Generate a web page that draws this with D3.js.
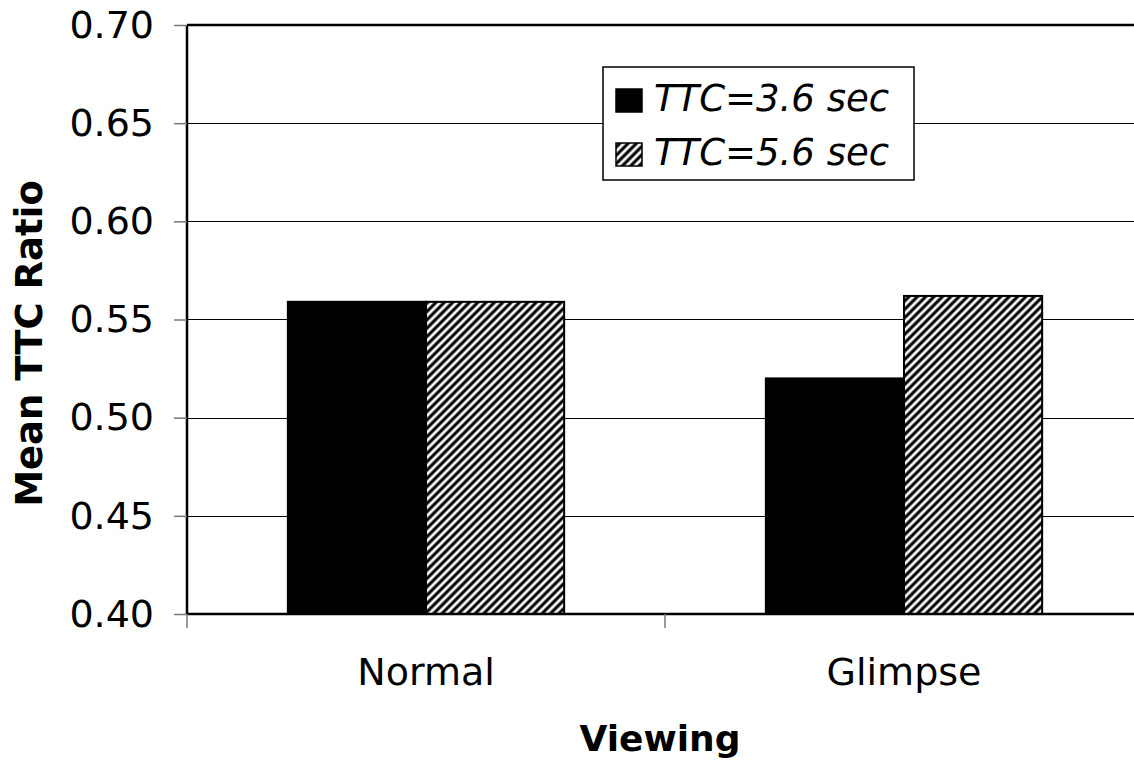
<!DOCTYPE html>
<html>
<head>
<meta charset="utf-8">
<script src="https://cdn.jsdelivr.net/npm/d3@7"></script>
<style>
  body { margin: 0; background: #fff; }
  svg { display: block; font-family: 'DejaVu Sans', Verdana, sans-serif; }
</style>
</head>
<body>
<svg id="chart"></svg>
<script>
// data
const categories = ['Normal', 'Glimpse'];
const seriesNames = ['TTC=3.6 sec', 'TTC=5.6 sec'];
const ttc36 = [0.559, 0.520];
const ttc56 = [0.559, 0.562];
const yTicks = [0.40, 0.45, 0.50, 0.55, 0.60, 0.65, 0.70];

const width = 1134, height = 765;
const margin = { top: 25, right: -9, bottom: 151, left: 187 };

const svg = d3.select('#chart').attr('width', width).attr('height', height);

// hatch pattern for the second series
const defs = svg.append('defs');
defs.append('pattern')
  .attr('id', 'hatch')
  .attr('patternUnits', 'userSpaceOnUse')
  .attr('width', 5.9)
  .attr('height', 5.9)
  .attr('patternTransform', 'rotate(45)')
  .call(p => {
    p.append('rect').attr('width', 5.9).attr('height', 5.9).attr('fill', '#fff');
    p.append('line').attr('x1', 2.95).attr('y1', 0).attr('x2', 2.95).attr('y2', 5.9)
      .attr('stroke', '#000').attr('stroke-width', 3.1);
  });

const x = d3.scaleBand()
  .domain(categories)
  .range([margin.left, width - margin.right])
  .padding(0);

const x1 = d3.scaleBand()
  .domain(seriesNames)
  .range([0, x.bandwidth()])
  .paddingOuter(0.73)
  .paddingInner(0);

const y = d3.scaleLinear()
  .domain([0.4, 0.7])
  .range([height - margin.bottom, margin.top]);

// gridlines
svg.append('g')
  .selectAll('line')
  .data(yTicks.slice(1, -1))
  .enter()
  .append('line')
  .attr('x1', margin.left)
  .attr('x2', width - margin.right)
  .attr('y1', d => Math.round(y(d)) + 0.5)
  .attr('y2', d => Math.round(y(d)) + 0.5)
  .attr('stroke', '#000')
  .attr('stroke-width', 1);

// top border
svg.append('line')
  .attr('x1', margin.left).attr('x2', width - margin.right)
  .attr('y1', y(0.7)).attr('y2', y(0.7))
  .attr('stroke', '#000').attr('stroke-width', 2.5);

// bars
const series = [
  { name: seriesNames[0], values: ttc36, fill: '#000' },
  { name: seriesNames[1], values: ttc56, fill: 'url(#hatch)' }
];

svg.append('g')
  .selectAll('g')
  .data(series)
  .enter()
  .append('g')
  .selectAll('rect')
  .data(s => s.values.map((v, i) => ({ cat: categories[i], v, s })))
  .enter()
  .append('rect')
  .attr('x', d => x(d.cat) + x1(d.s.name))
  .attr('y', d => y(d.v))
  .attr('width', x1.bandwidth())
  .attr('height', d => y(0.4) - y(d.v))
  .attr('fill', d => d.s.fill)
  .attr('stroke', '#000')
  .attr('stroke-width', 2);

// y axis
const yAxis = svg.append('g')
  .attr('transform', `translate(${margin.left},0)`)
  .call(d3.axisLeft(y).tickValues(yTicks).tickFormat(d3.format('.2f')).tickSize(13).tickPadding(20));
yAxis.select('.domain').attr('stroke', '#000').attr('stroke-width', 2.5).attr('d', `M0,${y(0.7)}V${y(0.4)}`);
yAxis.selectAll('.tick line').attr('stroke', '#777').attr('stroke-width', 1.5);
yAxis.selectAll('.tick text').attr('font-size', 38).attr('fill', '#000')
  .attr('font-family', "'DejaVu Sans', Verdana, sans-serif");

// x axis
const xAxis = svg.append('g')
  .attr('transform', `translate(0,${y(0.4)})`)
  .call(d3.axisBottom(x).tickSize(0).tickPadding(44));
xAxis.select('.domain').attr('stroke', '#000').attr('stroke-width', 2.5)
  .attr('d', `M${margin.left},0H${width - margin.right}`);
xAxis.selectAll('.tick text').attr('font-size', 38).attr('fill', '#000')
  .attr('font-family', "'DejaVu Sans', Verdana, sans-serif");
xAxis.selectAll('.sep')
  .data([margin.left, margin.left + x.bandwidth(), width - margin.right])
  .enter()
  .append('line')
  .attr('x1', d => d).attr('x2', d => d)
  .attr('y1', 0).attr('y2', 14)
  .attr('stroke', '#777').attr('stroke-width', 1.5);

// axis titles
svg.append('text')
  .attr('transform', `translate(42,${(y(0.4) + y(0.7)) / 2 + 24}) rotate(-90)`)
  .attr('text-anchor', 'middle')
  .attr('font-size', 37)
  .attr('font-weight', 'bold')
  .text('Mean TTC Ratio');

svg.append('text')
  .attr('x', 660)
  .attr('y', 751)
  .attr('text-anchor', 'middle')
  .attr('font-size', 36)
  .attr('font-weight', 'bold')
  .text('Viewing');

// legend
const legend = svg.append('g').attr('transform', 'translate(603,67)');
legend.append('rect')
  .attr('width', 311).attr('height', 113)
  .attr('fill', '#fff').attr('stroke', '#000').attr('stroke-width', 1.5);

const items = legend.selectAll('.item')
  .data(series)
  .enter()
  .append('g')
  .attr('transform', (d, i) => `translate(13,${22 + i * 54})`);
items.append('rect')
  .attr('width', 26).attr('height', 23)
  .attr('fill', d => d.fill)
  .attr('stroke', '#000').attr('stroke-width', 1.5);
items.append('text')
  .attr('x', 38).attr('y', 22)
  .attr('font-size', 37)
  .attr('font-style', 'italic')
  .text(d => d.name);
</script>
</body>
</html>
